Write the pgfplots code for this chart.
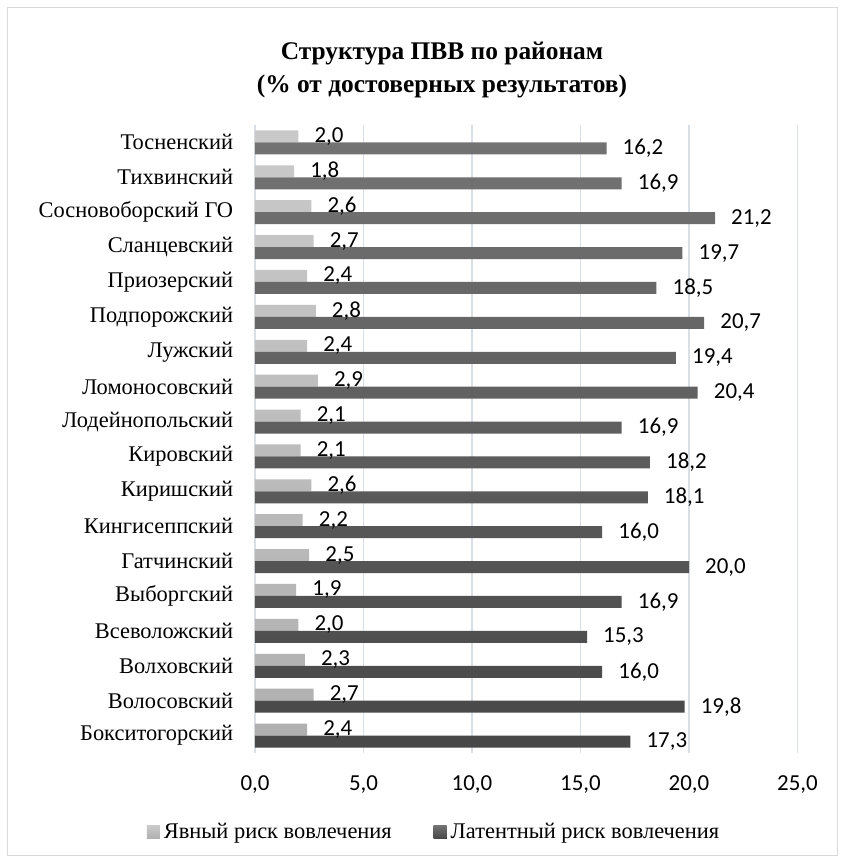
\documentclass[border=0pt]{standalone}
\usepackage{pgfplots}
\pgfplotsset{compat=1.18}
\usepackage{fontspec}
\setmainfont{Liberation Serif}
\newfontfamily\carlito{Carlito}
\definecolor{gridc}{HTML}{DADFE6}
\definecolor{framec}{HTML}{D9D9D9}
\begin{document}
\begin{tikzpicture}[x=1bp,y=1bp]
\useasboundingbox (-255,-109) rectangle (588,753);
\draw[framec, line width=1bp] (-247,-102) rectangle (582,745);
\node[anchor=base, font=\fontsize{25.5}{25.5}\selectfont\bfseries] at (187,693) {Структура ПВВ по районам};
\node[anchor=base, font=\fontsize{25.5}{25.5}\selectfont\bfseries] at (187,660) {(\% от достоверных результатов)};
\begin{axis}[
  at={(0,0)}, anchor=south west,
  scale only axis, width=542.5bp, height=628bp,
  xmin=0, xmax=25, ymin=-0.5, ymax=17.5,
  xbar, bar width=12bp,
  axis line style={draw=none},
  major tick length=0pt,
  xtick={0,5,...,25},
  xmajorgrids, grid style={gridc, line width=1.3bp},
  ytick={0,...,17},
  yticklabels={Бокситогорский, Волосовский, Волховский, Всеволожский, Выборгский, Гатчинский, Кингисеппский, Киришский, Кировский, Лодейнопольский, Ломоносовский, Лужский, Подпорожский, Приозерский, Сланцевский, Сосновоборский ГО, Тихвинский, Тосненский},
  yticklabel style={font=\fontsize{22.5}{22.5}\selectfont, anchor=east, inner sep=0pt, xshift=-21.7bp},
  xticklabel style={font=\carlito\fontsize{23}{23}\selectfont, anchor=base, inner sep=0pt, yshift=-37bp},
  /pgf/number format/.cd, use comma, fixed, fixed zerofill, precision=1, assume math mode=true,
  /pgfplots/.cd,
  nodes near coords,
  every node near coord/.append style={font=\carlito\fontsize{23}{23}\selectfont, anchor=west, inner sep=0pt, xshift=16bp, text=black},
  legend columns=2,
  legend style={at={(0.33,-0.1258)}, anchor=center, draw=none, fill=none,
    font=\fontsize{22.5}{22.5}\selectfont,
    /tikz/every even column/.append style={column sep=40bp}},
  legend image code/.code={\fill[#1] (0bp,-6.5bp) rectangle (13bp,6.5bp); \path (15bp,0bp);},
]
\addplot[draw=none, top color=gray!42, bottom color=gray!62, bar shift=6bp] coordinates {
(2.4,0) (2.7,1) (2.3,2) (2.0,3) (1.9,4) (2.5,5) (2.2,6) (2.6,7) (2.1,8) (2.1,9) (2.9,10) (2.4,11) (2.8,12) (2.4,13) (2.7,14) (2.6,15) (1.8,16) (2.0,17)};
\addplot[draw=none, top color=black!55, bottom color=black!72, bar shift=-6bp] coordinates {
(17.3,0) (19.8,1) (16.0,2) (15.3,3) (16.9,4) (20.0,5) (16.0,6) (18.1,7) (18.2,8) (16.9,9) (20.4,10) (19.4,11) (20.7,12) (18.5,13) (19.7,14) (21.2,15) (16.9,16) (16.2,17)};
\legend{Явный риск вовлечения, Латентный риск вовлечения}
\end{axis}
\end{tikzpicture}
\end{document}
